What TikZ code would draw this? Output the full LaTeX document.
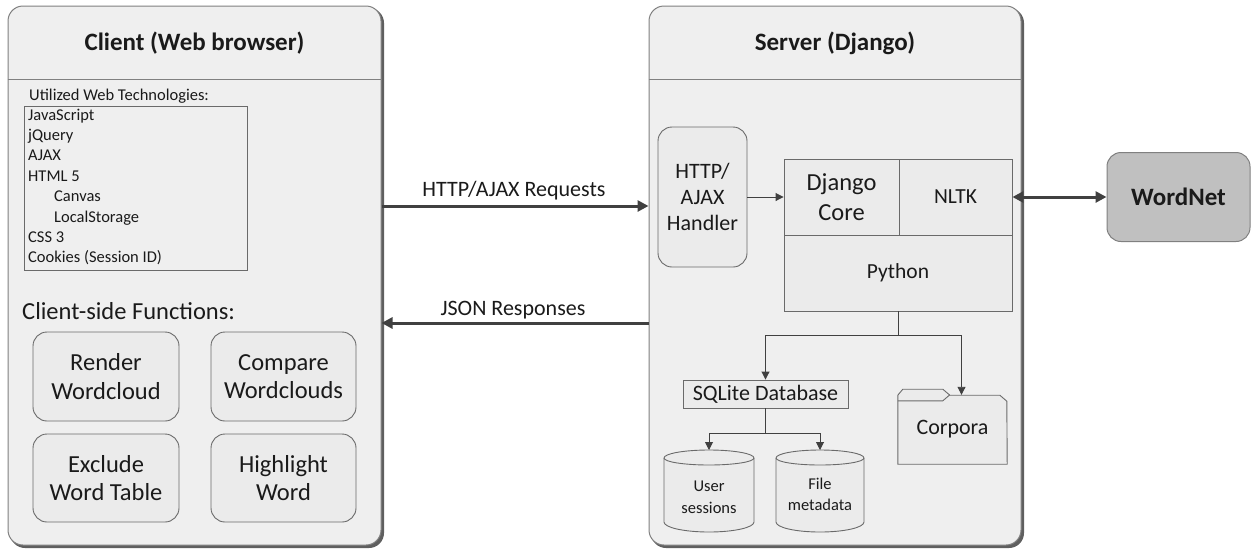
\documentclass[tikz,border=0pt]{standalone}
\usepackage{fontspec}
\setmainfont{Carlito}
\usetikzlibrary{arrows.meta,calc}
\pgfdeclarelayer{back}
\pgfdeclarelayer{mid}
\pgfsetlayers{back,mid,main}
\newcommand{\fsz}[2]{\fontsize{#1}{#2}\selectfont}
\definecolor{txtc}{HTML}{1A1A1A}
\definecolor{panelfill}{HTML}{EFEFEF}
\definecolor{paneldraw}{HTML}{808080}
\definecolor{shadowc}{HTML}{5F5F5F}
\definecolor{boxfill}{HTML}{EBEBEB}
\definecolor{boxdraw}{HTML}{6A6A6A}
\definecolor{linec}{HTML}{404040}
\definecolor{wnfill}{HTML}{C0C0C0}
\tikzset{
  panel/.style={draw=paneldraw, fill=panelfill, line width=1pt, rounded corners=15pt, inner sep=0pt},
  hdrline/.style={draw=paneldraw, line width=1pt},
  titlef/.style={font=\bfseries\fsz{25}{30}, text=txtc, inner sep=0pt},
  techf/.style={font=\fsz{16.5}{20}, text=txtc, inner sep=0pt, anchor=base west},
  funcbox/.style={draw=boxdraw, fill=boxfill, line width=0.9pt, rounded corners=14pt, align=center,
    font=\fsz{24.5}{28.5}, text=txtc, inner sep=0pt},
  stackbox/.style={draw=boxdraw, fill=boxfill, line width=0.9pt, align=center, text=txtc, inner sep=0pt},
  lbl/.style={font=\fsz{22}{26}, text=txtc, inner sep=0pt, anchor=base},
  thinln/.style={draw=linec, line width=0.9pt},
  thinarr/.style={thinln, -{Triangle[length=8pt,width=8pt]}},
  bigarr/.style={draw=linec, line width=3pt, -{Triangle[length=11pt,width=11pt]}},
  bigdbl/.style={draw=linec, line width=3pt, {Triangle[length=11pt,width=11pt]}-{Triangle[length=11pt,width=11pt]}},
  cyl/.style={draw=boxdraw, fill=boxfill, line width=0.9pt},
  dbtxt/.style={align=center, font=\fsz{16.5}{21.5}, text=txtc, inner sep=0pt},
}
\begin{document}
\begin{tikzpicture}[x=1pt,y=-1pt]
\useasboundingbox (0,0) rectangle (1252,550);

% ---------- panels ----------
\begin{pgfonlayer}{mid}
\node[panel, minimum width=373pt, minimum height=539pt] (client) at (194.5,275.5) {};
\node[panel, minimum width=372pt, minimum height=539pt] (server) at (835,275.5) {};
\end{pgfonlayer}
\begin{pgfonlayer}{back}
\fill[shadowc, rounded corners=15pt] ($(client.north west)+(2.5,2.5)$) rectangle ($(client.south east)+(2.5,2.5)$);
\fill[shadowc, rounded corners=15pt] ($(server.north west)+(2.5,2.5)$) rectangle ($(server.south east)+(2.5,2.5)$);
\end{pgfonlayer}
\coordinate (hdr) at (0,79);
\draw[hdrline] (client.west |- hdr) -- (client.east |- hdr);
\draw[hdrline] (server.west |- hdr) -- (server.east |- hdr);

\node[titlef, anchor=base] (clienttitle) at (194.5,50.5) {Client (Web browser)};
\node[titlef, anchor=base] (servertitle) at (835,50.5) {Server (Django)};

% ---------- client content ----------
\node[techf] (techhead) at (29,100) {Utilized Web Technologies:};
\node[draw=boxdraw, line width=0.9pt, minimum width=223pt, minimum height=164pt, anchor=north west, inner sep=0pt] (techbox) at (24,106) {};
\node[techf] (t1) at (28,120) {JavaScript};
\node[techf] (t2) at (28,140.4) {jQuery};
\node[techf] (t3) at (28,160.8) {AJAX};
\node[techf] (t4) at (28,181.2) {HTML 5};
\node[techf] (t5) at (54,201.6) {Canvas};
\node[techf] (t6) at (54,222) {LocalStorage};
\node[techf] (t7) at (28,242.4) {CSS 3};
\node[techf] (t8) at (28,262.8) {Cookies (Session ID)};

\node[font=\fsz{24.5}{29}, text=txtc, inner sep=0pt, anchor=base west] (cfhead) at (22,319) {Client-side Functions:};

\node[funcbox, minimum width=146pt, minimum height=89pt] (render) at (106,376.5) {Render\\Wordcloud};
\node[funcbox, minimum width=145pt, minimum height=89pt] (compare) at (283.5,376.5) {Compare\\Wordclouds};
\node[funcbox, minimum width=146pt, minimum height=88pt] (exclude) at (106,478) {Exclude\\Word Table};
\node[funcbox, minimum width=145pt, minimum height=88pt] (highlight) at (283.5,478) {Highlight\\Word};

% ---------- server content ----------
\node[funcbox, font=\fsz{22}{26}, minimum width=89pt, minimum height=140pt] (handler) at (702.5,197) {HTTP/\\AJAX\\Handler};
\node[stackbox, font=\fsz{24.5}{30}, minimum width=115pt, minimum height=76pt] (django) at (841.5,197) {Django\\Core};
\node[stackbox, font=\fsz{21.5}{26}, minimum width=113pt, minimum height=76pt] (nltk) at (955.5,197) {NLTK};
\node[stackbox, font=\fsz{21.5}{26}, minimum width=228pt, minimum height=76pt] (python) at (898,273) {Python};

\node[stackbox, font=\fsz{22}{26}, minimum width=165pt, minimum height=28pt] (sqlite) at (765.5,394) {SQLite Database};

% folder
\node[font=\fsz{22}{26}, text=txtc, inner sep=0pt, minimum width=109pt, minimum height=69pt] (corpora) at (952.5,429.5) {Corpora};
\begin{pgfonlayer}{mid}
\draw[cyl] (corpora.south west) -- ++(0,-69) -- ++(5,-6) -- ++(40,0) -- ++(7,6) -- ++(50,0) -- ++(7,6) -- (corpora.south east) -- cycle;
\draw[thinln, draw=boxdraw] ($(corpora.north west)+(0,6)$) -- ++(45,0) -- ++(7,-6);
\end{pgfonlayer}

% cylinders
\coordinate (cyl1) at (709,458);
\coordinate (cyl2) at (820,458);
\coordinate (cyl1top) at (709,450);
\coordinate (cyl2top) at (820,450);
\begin{pgfonlayer}{mid}
\draw[cyl] ($(cyl1)+(-45,0)$) arc[start angle=180,end angle=0,x radius=45pt,y radius=8pt] -- ++(0,64) arc[start angle=0,end angle=-180,x radius=45pt,y radius=10pt] -- cycle;
\draw[thinln, draw=boxdraw] ($(cyl1)+(-45,0)$) arc[start angle=180,end angle=360,x radius=45pt,y radius=7pt];
\draw[cyl] ($(cyl2)+(-44,0)$) arc[start angle=180,end angle=0,x radius=44pt,y radius=8pt] -- ++(0,64) arc[start angle=0,end angle=-180,x radius=44pt,y radius=10pt] -- cycle;
\draw[thinln, draw=boxdraw] ($(cyl2)+(-44,0)$) arc[start angle=180,end angle=360,x radius=44pt,y radius=7pt];
\end{pgfonlayer}
\node[dbtxt] (users) at (709,497.5) {User\\sessions};
\node[dbtxt] (files) at (820,494.5) {File\\metadata};

% WordNet
\node[draw=paneldraw, fill=wnfill, line width=1pt, rounded corners=14pt, minimum width=143pt, minimum height=89pt,
  font=\bfseries\fsz{25}{30}, text=txtc, inner sep=0pt] (wordnet) at (1178.5,197) {WordNet};

% ---------- connectors ----------
\draw[bigarr] ([yshift=69.5pt]client.east) -- ([yshift=69.5pt]server.west);
\node[lbl] (reqlbl) at (514,196) {HTTP/AJAX Requests};
\draw[bigarr] ([yshift=-47.5pt]server.west) -- ([yshift=-47.5pt]client.east);
\node[lbl] (jsonlbl) at (513,315) {JSON Responses};

\draw[thinarr] (handler.east) -- (django.west);
\draw[bigdbl] (nltk.east) -- (wordnet.west);

\draw[thinln] (python.south) -- ++(0,24) coordinate (j1);
\draw[thinarr] (j1) -| (sqlite.north);
\draw[thinarr] (j1) -| ([xshift=9pt]corpora.north);
\draw[thinln] (sqlite.south) -- ++(0,25) coordinate (j2);
\draw[thinarr] (j2) -| (cyl1top);
\draw[thinarr] (j2) -| (cyl2top);
\end{tikzpicture}
\end{document}
